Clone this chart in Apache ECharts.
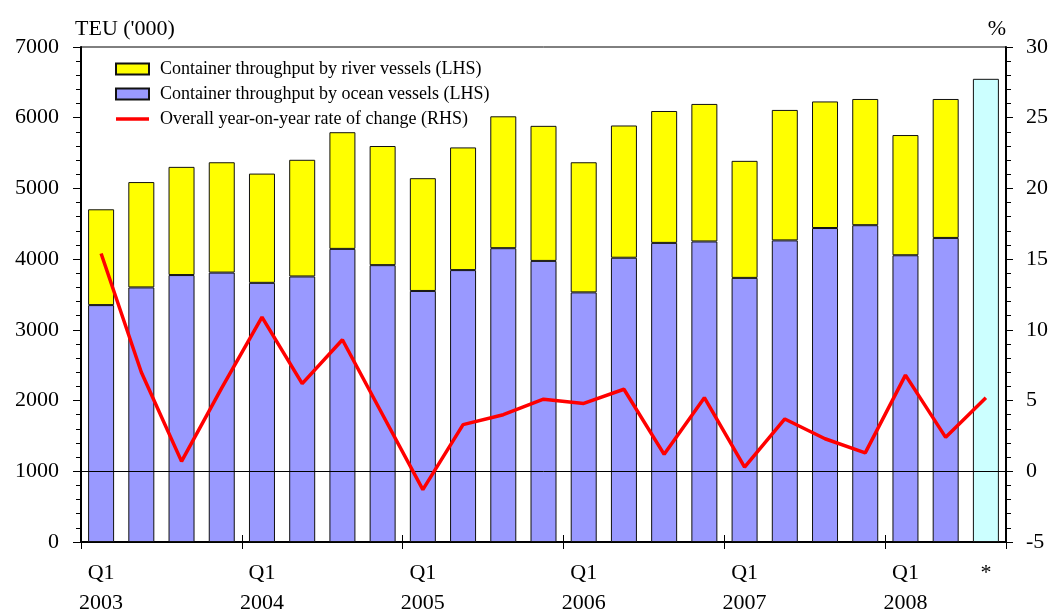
<!DOCTYPE html>
<html>
<head>
<meta charset="utf-8">
<script src="https://cdn.jsdelivr.net/npm/echarts@6/dist/echarts.min.js"></script>
<style>
  html, body { margin: 0; padding: 0; background: #fff; }
  #container { width: 1050px; height: 612px; }
</style>
</head>
<body>
<div id="container"></div>
<script>
const categories = [
  '2003 Q1', '2003 Q2', '2003 Q3', '2003 Q4',
  '2004 Q1', '2004 Q2', '2004 Q3', '2004 Q4',
  '2005 Q1', '2005 Q2', '2005 Q3', '2005 Q4',
  '2006 Q1', '2006 Q2', '2006 Q3', '2006 Q4',
  '2007 Q1', '2007 Q2', '2007 Q3', '2007 Q4',
  '2008 Q1', '2008 Q2', '*'
]
// TEU ('000)
const oceanVessels = [3350, 3600, 3775, 3810, 3665, 3755, 4145, 3915, 3550, 3845, 4155, 3975,
  3530, 4020, 4230, 4250, 3735, 4265, 4440, 4480, 4055, 4300, '-']
const riverVessels = [1355, 1490, 1530, 1560, 1545, 1650, 1650, 1685, 1595, 1735, 1865, 1910,
  1840, 1870, 1865, 1945, 1655, 1845, 1790, 1785, 1700, 1965, '-']
const provisionalTotal = ['-', '-', '-', '-', '-', '-', '-', '-', '-', '-', '-', '-',
  '-', '-', '-', '-', '-', '-', '-', '-', '-', '-', 6550]
// %
const yoyChange = [15.4, 7.0, 0.7, 5.9, 10.9, 6.2, 9.3, 4.0, -1.3, 3.3, 4.0, 5.1,
  4.8, 5.8, 1.2, 5.2, 0.3, 3.7, 2.3, 1.3, 6.8, 2.4, 5.2]

const leftTicks = { min: 0, max: 7000, interval: 1000 }
const rightTicks = { min: -5, max: 30, interval: 5 }

const font = 'Liberation Serif, Times New Roman, serif'
const yearStart = function(i) { return i % 4 === 0 }

let myChart = echarts.init(document.getElementById('container'), null, { renderer: 'canvas' })

let option = {
  animation: false,
  textStyle: { fontFamily: font, color: '#000' },
  grid: {
    left: 81, right: 44, top: 47, bottom: 70,
    outerBoundsMode: 'none',
    containLabel: false,
    show: true, borderColor: '#000', borderWidth: 1
  },
  legend: {
    orient: 'vertical',
    left: 115,
    top: 60,
    padding: 0,
    itemWidth: 33,
    itemHeight: 11,
    itemGap: 7,
    selectedMode: false,
    textStyle: { fontFamily: font, fontSize: 18, color: '#000', lineHeight: 18, padding: [0, 0, 0, 6] },
    data: [
      { name: 'Container throughput by river vessels (LHS)', icon: 'rect' },
      { name: 'Container throughput by ocean vessels (LHS)', icon: 'rect' },
      { name: 'Overall year-on-year rate of change (RHS)', icon: 'path://M0,0 H36 V4 H0 Z' }
    ]
  },
  xAxis: [
    {
      type: 'category',
      data: categories,
      position: 'bottom',
      axisLine: { onZero: false, lineStyle: { color: '#000', width: 2 } },
      axisTick: { show: true, length: 7, interval: yearStart, lineStyle: { color: '#000' } },
      axisLabel: {
        interval: function(i) { return i % 4 === 0 || i === categories.length - 1 },
        margin: 16,
        fontSize: 22,
        lineHeight: 30,
        fontFamily: font,
        color: '#000',
        formatter: function(v) {
          if (v === '*') return '*'
          let parts = v.split(' ')
          return parts[1] + '\n' + parts[0]
        }
      }
    },
    {
      // inner half of the year ticks
      type: 'category',
      data: categories,
      position: 'bottom',
      axisLine: { show: false, onZero: false },
      axisLabel: { show: false },
      axisTick: { show: true, inside: true, length: 7, interval: yearStart, lineStyle: { color: '#000' } }
    }
  ],
  yAxis: [
    {
      type: 'value',
      min: leftTicks.min, max: leftTicks.max, interval: leftTicks.interval,
      name: "TEU ('000)",
      nameLocation: 'end',
      nameGap: 18,
      nameTextStyle: { fontFamily: font, fontSize: 22, color: '#000', align: 'left', verticalAlign: 'middle', padding: [0, 0, 0, -6] },
      axisLine: { show: true, lineStyle: { color: '#000', width: 2 } },
      axisTick: { show: true, length: 8, lineStyle: { color: '#000' } },
      minorTick: { show: true, splitNumber: 5, length: 5, lineStyle: { color: '#000' } },
      splitLine: { show: false },
      axisLabel: {
        fontSize: 22, margin: 22, fontFamily: font, color: '#000',
        formatter: function(v) { return String(v) }
      }
    },
    {
      type: 'value',
      position: 'right',
      min: rightTicks.min, max: rightTicks.max, interval: rightTicks.interval,
      name: '%',
      nameLocation: 'end',
      nameGap: 18,
      nameTextStyle: { fontFamily: font, fontSize: 22, color: '#000', align: 'right', verticalAlign: 'middle' },
      axisLine: { show: true, lineStyle: { color: '#000', width: 2 } },
      axisTick: { show: true, length: 7, lineStyle: { color: '#000' } },
      minorTick: { show: true, splitNumber: 5, length: 5, lineStyle: { color: '#000' } },
      splitLine: { show: false },
      axisLabel: { fontSize: 22, margin: 20, fontFamily: font, color: '#000' }
    }
  ],
  series: [
    {
      name: 'Container throughput by ocean vessels (LHS)',
      type: 'bar',
      stack: 'teu',
      data: oceanVessels,
      barWidth: 26,
      itemStyle: { color: '#9999ff', borderColor: '#111', borderWidth: 1 }
    },
    {
      name: 'Container throughput by river vessels (LHS)',
      type: 'bar',
      stack: 'teu',
      data: riverVessels,
      barWidth: 26,
      itemStyle: { color: '#ffff00', borderColor: '#111', borderWidth: 1 }
    },
    {
      name: 'Provisional',
      type: 'bar',
      stack: 'teu',
      data: provisionalTotal,
      barWidth: 26,
      itemStyle: { color: '#ccffff', borderColor: '#111', borderWidth: 1 }
    },
    {
      name: 'Overall year-on-year rate of change (RHS)',
      type: 'line',
      yAxisIndex: 1,
      data: yoyChange,
      symbol: 'none',
      z: 5,
      itemStyle: { color: '#ff0000' },
      lineStyle: { color: '#ff0000', width: 3.5 },
      markLine: {
        silent: true,
        symbol: 'none',
        label: { show: false },
        lineStyle: { color: '#000', width: 1, type: 'solid' },
        data: [{ yAxis: 0 }]
      }
    }
  ]
}

option && myChart.setOption(option)

window.addEventListener('resize', function() {
  myChart.resize()
})
</script>
</body>
</html>
